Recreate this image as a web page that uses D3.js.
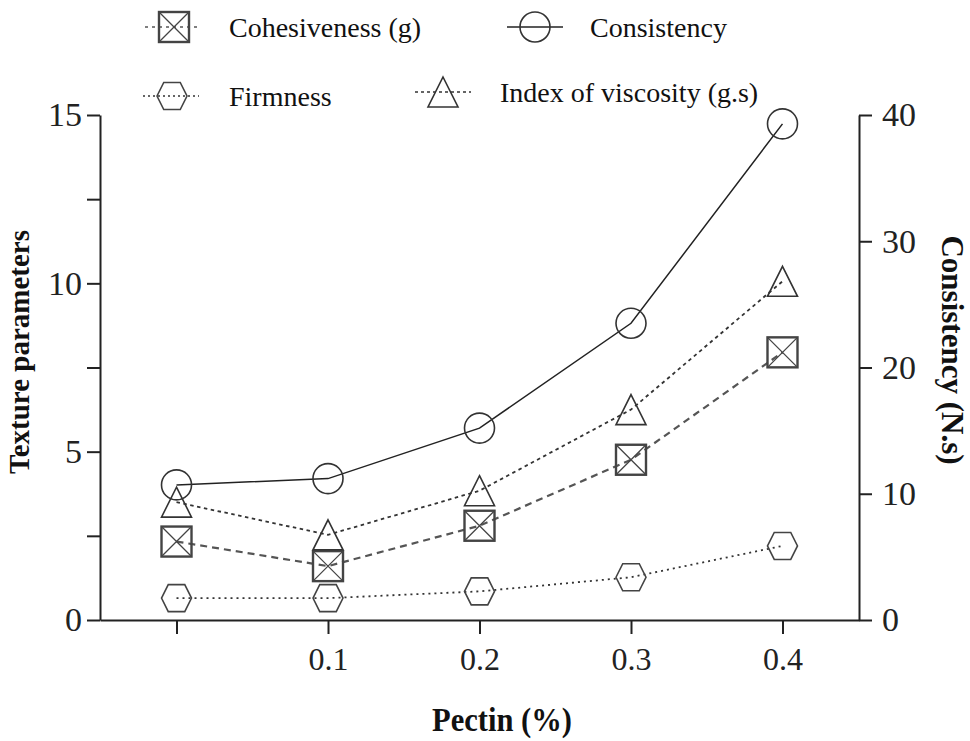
<!DOCTYPE html>
<html><head><meta charset="utf-8">
<script src="https://cdn.jsdelivr.net/npm/d3@7"></script>
<style>html,body{margin:0;padding:0;background:#fff;}svg{display:block;}</style>
</head><body>
<svg id="chart" width="970" height="741"></svg>
<script>
// ---- data ----
const pectin = [0, 0.1, 0.2, 0.3, 0.4];
const xTickLabels = ["", "0.1", "0.2", "0.3", "0.4"];
const cohesiveness = [2.33, 1.6, 2.8, 4.76, 7.95];        // left axis
const firmness = [0.65, 0.65, 0.85, 1.27, 2.2];            // left axis
const viscosityIndex = [3.5, 2.53, 3.84, 6.25, 10.06];     // left axis
const consistency = [10.7, 11.2, 15.2, 23.5, 39.3];        // right axis (N.s)
const leftTicks = [0, 2.5, 5, 7.5, 10, 12.5, 15];
const leftTickLabels = ["0", "", "5", "", "10", "", "15"];
const rightTicks = [0, 10, 20, 30, 40];
const rightTickLabels = ["0", "10", "20", "30", "40"];

const svg = d3.select("#chart");
const L = 100, R = 859, T = 115, B = 620;
const x = d3.scaleLinear().domain([-0.0505, 0.4505]).range([L, R]);
const yL = d3.scaleLinear().domain([0, 15]).range([B, T]);
const yR = d3.scaleLinear().domain([0, 40]).range([B, T]);

const FONT = "'Liberation Serif','Times New Roman',serif";

function styleAxis(g, fs) {
  g.select(".domain").attr("stroke", "#222").attr("stroke-width", 2);
  g.selectAll(".tick line").attr("stroke", "#222").attr("stroke-width", 2);
  g.selectAll(".tick text").attr("font-family", FONT).attr("font-size", fs).attr("fill", "#222");
}

// axes
const gx = svg.append("g").attr("transform", `translate(0,${B})`)
  .call(d3.axisBottom(x).tickValues(pectin).tickFormat((d, i) => xTickLabels[i]).tickSize(14).tickSizeOuter(0).tickPadding(13));
styleAxis(gx, 32);
const gl = svg.append("g").attr("transform", `translate(${L},0)`)
  .call(d3.axisLeft(yL).tickValues(leftTicks).tickFormat((d, i) => leftTickLabels[i]).tickSize(13).tickSizeOuter(0).tickPadding(5));
styleAxis(gl, 34);
const gr = svg.append("g").attr("transform", `translate(${R},0)`)
  .call(d3.axisRight(yR).tickValues(rightTicks).tickFormat((d, i) => rightTickLabels[i]).tickSize(13).tickSizeOuter(0).tickPadding(10));
styleAxis(gr, 34);

// axis titles
svg.append("text").attr("transform", `translate(29,352) rotate(-90)`)
  .attr("text-anchor", "middle").attr("font-family", FONT).attr("font-weight", "bold")
  .attr("font-size", 29).attr("fill", "#111").text("Texture parameters");
svg.append("text").attr("transform", `translate(942,350) rotate(90)`)
  .attr("text-anchor", "middle").attr("font-family", FONT).attr("font-weight", "bold")
  .attr("font-size", 31).attr("fill", "#111").text("Consistency (N.s)");
svg.append("text").attr("x", 502).attr("y", 731)
  .attr("text-anchor", "middle").attr("font-family", FONT).attr("font-weight", "bold")
  .attr("font-size", 34).attr("textLength", 140).attr("lengthAdjust", "spacingAndGlyphs")
  .attr("fill", "#111").text("Pectin (%)");

// marker drawers
const S = 15;
function drawMarker(g, type, cx, cy, s) {
  s = s || S;
  if (type === "circle") {
    g.append("circle").attr("cx", cx).attr("cy", cy).attr("r", s)
      .attr("fill", "none").attr("stroke", "#333").attr("stroke-width", 1.6);
  } else if (type === "square") {
    g.append("rect").attr("x", cx - s).attr("y", cy - s).attr("width", 2 * s).attr("height", 2 * s)
      .attr("fill", "none").attr("stroke", "#444").attr("stroke-width", 2.4);
    g.append("path").attr("d", `M${cx - s},${cy - s}L${cx + s},${cy + s}M${cx + s},${cy - s}L${cx - s},${cy + s}`)
      .attr("stroke", "#444").attr("stroke-width", 1.3).attr("fill", "none");
  } else if (type === "triangle") {
    g.append("path").attr("d", `M${cx},${cy - s}L${cx + s},${cy + s}L${cx - s},${cy + s}Z`)
      .attr("fill", "none").attr("stroke", "#333").attr("stroke-width", 1.6);
  } else if (type === "hexagon") {
    const h = s * 0.9, w2 = s * 0.55;
    g.append("path").attr("d", `M${cx - s},${cy}L${cx - w2},${cy - h}L${cx + w2},${cy - h}L${cx + s},${cy}L${cx + w2},${cy + h}L${cx - w2},${cy + h}Z`)
      .attr("fill", "none").attr("stroke", "#444").attr("stroke-width", 1.6);
  }
}

const series = [
  { name: "Firmness", vals: firmness, y: yL, marker: "hexagon", stroke: "#333", sw: 1.8, dash: "2,4" },
  { name: "Cohesiveness (g)", vals: cohesiveness, y: yL, marker: "square", stroke: "#555", sw: 2.2, dash: "7,5" },
  { name: "Index of viscosity (g.s)", vals: viscosityIndex, y: yL, marker: "triangle", stroke: "#333", sw: 1.8, dash: "3.5,3.5" },
  { name: "Consistency", vals: consistency, y: yR, marker: "circle", stroke: "#222", sw: 1.5, dash: null }
];

const line = (ys) => d3.line().x((d, i) => x(pectin[i])).y(d => ys(d));
series.forEach(s => {
  svg.append("path").datum(s.vals).attr("d", line(s.y))
    .attr("fill", "none").attr("stroke", s.stroke).attr("stroke-width", s.sw)
    .attr("stroke-dasharray", s.dash);
  const g = svg.append("g");
  s.vals.forEach((v, i) => drawMarker(g, s.marker, x(pectin[i]), s.y(v)));
});

// legend
const legendItems = [
  { s: series[1], lx: 145, y: 27, cx: 174, tx: 229 },
  { s: series[3], lx: 507, y: 27, cx: 535, tx: 590 },
  { s: series[0], lx: 143, y: 96, cx: 172, tx: 229 },
  { s: series[2], lx: 415, y: 92, cx: 443, tx: 500 }
];
const legDash = { square: "3,4", circle: null, hexagon: "2,3", triangle: "3,3" };
legendItems.forEach(it => {
  svg.append("line").attr("x1", it.lx).attr("x2", it.lx + 56).attr("y1", it.y).attr("y2", it.y)
    .attr("stroke", it.s.stroke).attr("stroke-width", 1.6).attr("stroke-dasharray", legDash[it.s.marker]);
  drawMarker(svg, it.s.marker, it.cx, it.y, 15);
  svg.append("text").attr("x", it.tx).attr("y", it.y).attr("dy", "0.35em")
    .attr("font-family", FONT).attr("font-size", 28).attr("fill", "#111").text(it.s.name);
});
</script>
</body></html>
